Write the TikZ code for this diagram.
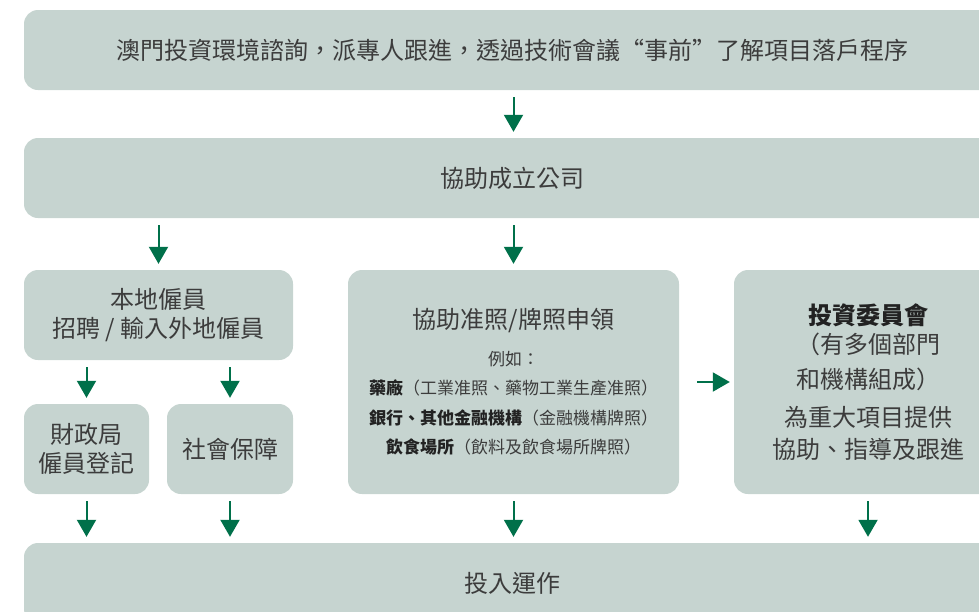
\documentclass[tikz,border=0pt]{standalone}
\usepackage{fontspec}
\usetikzlibrary{arrows.meta}
\newfontfamily\cjk{Noto Sans CJK TC}
\newcommand\licsmall{\fontsize{17}{29.5}\selectfont}
\definecolor{boxfill}{HTML}{C6D4D0}
\definecolor{arrowgreen}{HTML}{00704A}
\definecolor{textgrey}{HTML}{3C3C3C}
\definecolor{textdark}{HTML}{222222}

\begin{document}
\begin{tikzpicture}[x=1pt,y=-1pt,
  box/.style={fill=boxfill,rounded corners=14pt,inner sep=0pt,text=textgrey,
    font=\cjk\fontsize{24}{29.5}\selectfont,align=center},
  arr/.style={draw=arrowgreen,line width=2pt,-{Triangle[length=17pt,width=19pt]},
    shorten <=7pt,shorten >=6pt}]
\useasboundingbox (0,0) rectangle (979,611);

% boxes
\node[box,minimum width=976pt,minimum height=80pt] (consult) at (512,50)
  {澳門投資環境諮詢，派專人跟進，透過技術會議“事前”了解項目落戶程序};
\node[box,minimum width=976pt,minimum height=80pt] (company) at (512,178) {協助成立公司};
\node[box,minimum width=269pt,minimum height=90pt] (hire) at (158.5,315)
  {本地僱員\\招聘 / 輸入外地僱員};
\node[box,minimum width=125pt,minimum height=90pt] (reg) at (86.5,449) {財政局\\僱員登記};
\node[box,minimum width=126pt,minimum height=90pt] (soc) at (230,449) {社會保障};
\node[box,minimum width=331pt,minimum height=224pt] (lic) at (513.5,382)
  {協助准照/牌照申領\\[7pt]
   {\licsmall 例如：}\\
   {\licsmall{\bfseries\color{textdark}藥廠}（工業准照、藥物工業生產准照）}\\
   {\licsmall{\bfseries\color{textdark}銀行、其他金融機構}（金融機構牌照）}\\
   {\licsmall{\bfseries\color{textdark}飲食場所}（飲料及飲食場所牌照）}};
\node[box,minimum width=268pt,minimum height=224pt] (com) at (868,382)
  {{\bfseries\color{textdark}投資委員會}\\（有多個部門\\[5pt]和機構組成）\\[9pt]
   為重大項目提供\\[2pt]協助、指導及跟進};
\node[box,minimum width=976pt,minimum height=80pt] (run) at (512,583) {投入運作};

% arrows
\draw[arr] (consult.south -| lic.north) -- (company.north -| lic.north);
\draw[arr] (company.south -| hire.north) -- (hire.north);
\draw[arr] (company.south -| lic.north) -- (lic.north);
\draw[arr] (hire.south -| reg.north) -- (reg.north);
\draw[arr] (hire.south -| soc.north) -- (soc.north);
\draw[arr,shorten <=18pt,shorten >=4pt] (lic.east) -- (com.west);
\foreach \n in {reg,soc,lic,com}
  \draw[arr] (\n.south) -- (\n.south |- run.north);
\end{tikzpicture}
\end{document}
